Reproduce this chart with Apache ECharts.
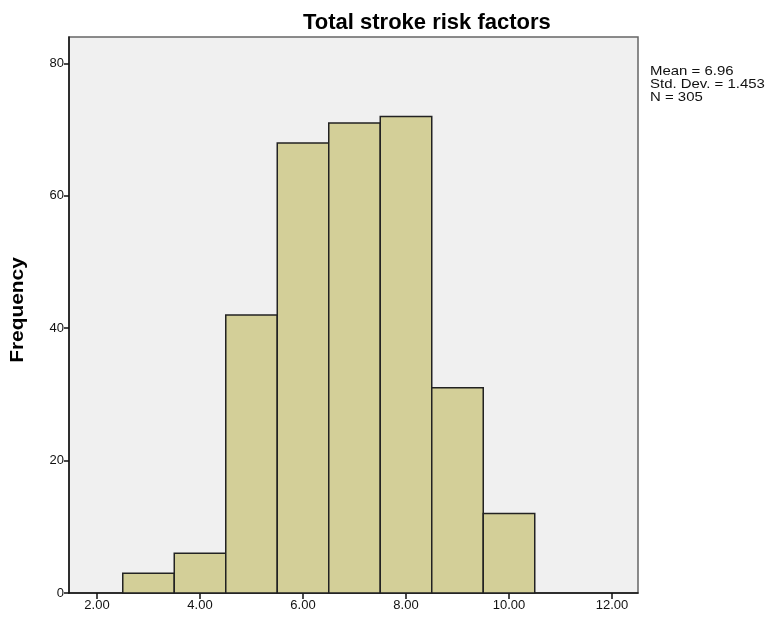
<!DOCTYPE html>
<html><head><meta charset="utf-8">
<script src="https://cdn.jsdelivr.net/npm/echarts@6/dist/echarts.min.js"></script>
<style>html,body{margin:0;padding:0;background:#fff}#c{width:766px;height:618px}</style>
</head><body><div id="c"></div>
<script>
const binStarts = [2.5, 3.5, 4.5, 5.5, 6.5, 7.5, 8.5, 9.5];
const binWidth = 1;
const frequencies = [3, 6, 42, 68, 71, 72, 31, 12];
const xTicks = [2, 4, 6, 8, 10, 12];
const yTicks = [0, 20, 40, 60, 80];
const statsLines = ['Mean = 6.96', 'Std. Dev. = 1.453', 'N = 305'];
const titleText = 'Total stroke risk factors';
const yName = 'Frequency';

const data = binStarts.map((s, i) => [s, s + binWidth, frequencies[i]]);
const font = 'Liberation Sans, Arial, sans-serif';
const chart = echarts.init(document.getElementById('c'));
chart.setOption({
  animation: false,
  backgroundColor: '#fff',
  title: { text: titleText, left: 298, top: 7,
    textStyle: { fontFamily: font, fontSize: 22, fontWeight: 'bold', color: '#000' } },
  grid: { left: 69, right: 128, top: 37, bottom: 25, show: true,
    backgroundColor: '#f0f0f0', borderColor: '#666', borderWidth: 1.5 },
  xAxis: { type: 'value', min: 1.456, max: 12.505,
    axisLine: { show: true, onZero: false, lineStyle: { color: '#111', width: 1.5 } },
    axisTick: { show: true, length: 6, customValues: xTicks, lineStyle: { color: '#111', width: 1.5 } },
    axisLabel: { customValues: xTicks, formatter: v => v.toFixed(2), color: '#111',
      fontFamily: font, fontSize: 13, margin: 6 },
    splitLine: { show: false } },
  yAxis: { type: 'value', min: 0, max: 84,
    axisLine: { show: true, lineStyle: { color: '#111', width: 1.5 } },
    axisTick: { show: true, length: 5, customValues: yTicks, lineStyle: { color: '#111', width: 1.5 } },
    axisLabel: { customValues: yTicks, color: '#111', fontFamily: font, fontSize: 13, margin: 5 },
    splitLine: { show: false } },
  series: [{
    type: 'custom',
    data: data,
    encode: { x: [0, 1], y: 2 },
    renderItem: function (params, api) {
      const p0 = api.coord([api.value(0), 0]);
      const p1 = api.coord([api.value(1), api.value(2)]);
      return { type: 'rect',
        shape: { x: p0[0], y: p1[1], width: p1[0] - p0[0], height: p0[1] - p1[1] },
        style: { fill: '#d3cf98', stroke: '#222', lineWidth: 1.5 } };
    }
  }],
  graphic: [
    { type: 'text', x: 650, y: 65, scaleX: 1.15,
      style: { text: statsLines.join('\n'), fontFamily: font, fontSize: 13, lineHeight: 13, fill: '#111' } },
    { type: 'text', x: 18, y: 310, rotation: Math.PI / 2, scaleX: 1.1,
      style: { text: yName, fontFamily: font, fontSize: 19, fontWeight: 'bold', fill: '#000',
        align: 'center', verticalAlign: 'middle' } }
  ]
});
</script></body></html>
